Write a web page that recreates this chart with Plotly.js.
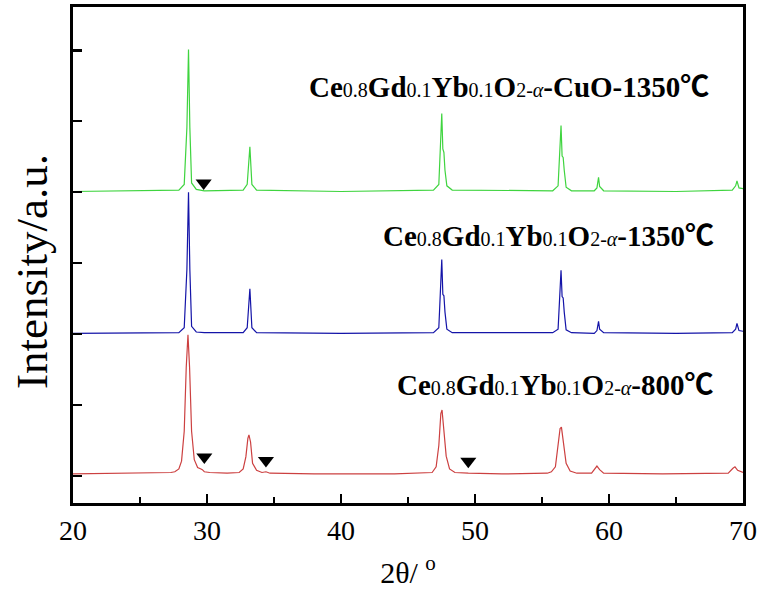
<!DOCTYPE html>
<html>
<head>
<meta charset="utf-8">
<script src="https://cdn.plot.ly/plotly-3.0.1.min.js"></script>
<style>html,body{margin:0;padding:0;background:#fff}#chart{width:765px;height:599px}</style>
</head>
<body>
<div id="chart"></div>
<script>
// Series names
const seriesNames = [
  "Ce0.8Gd0.1Yb0.1O2-α-CuO-1350℃",
  "Ce0.8Gd0.1Yb0.1O2-α-1350℃",
  "Ce0.8Gd0.1Yb0.1O2-α-800℃"
];
// Baseline offsets of the stacked patterns (axis units)
const offsets = [4.01, 2.01, 0.03];

// CuO-1350 pattern (green): 2θ and intensity above its baseline
const greenX = [20, 24, 27.9, 28.3, 28.5, 28.62, 28.72, 28.85, 29.2, 29.8, 32.7, 33.0, 33.2, 33.35, 33.7, 40, 46.9, 47.3, 47.52, 47.6, 47.68, 47.76, 47.9, 48.3, 55.8, 56.2, 56.42, 56.5, 56.58, 56.66, 56.8, 57.2, 58.9, 59.1, 59.22, 59.3, 59.6, 65, 69.2, 69.45, 69.55, 69.7, 70];
const greenY = [0, 0.01, 0.02, 0.1, 0.9, 2.0, 0.9, 0.12, 0.03, 0.01, 0.02, 0.1, 0.63, 0.1, 0.02, 0, 0.02, 0.1, 1.1, 0.6, 0.55, 0.3, 0.08, 0.02, 0.01, 0.08, 0.93, 0.5, 0.48, 0.3, 0.06, 0.01, 0.01, 0.05, 0.2, 0.07, 0.01, 0, 0.02, 0.08, 0.15, 0.05, 0.04];

// 1350 pattern (blue)
const blueX = [20, 24, 27.9, 28.3, 28.5, 28.62, 28.72, 28.85, 29.2, 29.8, 32.7, 33.0, 33.2, 33.35, 33.7, 40, 46.9, 47.3, 47.52, 47.6, 47.68, 47.76, 47.9, 48.3, 55.8, 56.2, 56.42, 56.5, 56.58, 56.66, 56.8, 57.2, 58.9, 59.1, 59.22, 59.3, 59.6, 65, 69.2, 69.45, 69.55, 69.7, 70];
const blueY = [0, 0, 0.01, 0.08, 0.9, 1.99, 0.9, 0.1, 0.02, 0.01, 0.01, 0.08, 0.63, 0.08, 0.01, 0, 0.01, 0.08, 1.04, 0.55, 0.53, 0.3, 0.06, 0.01, 0.01, 0.06, 0.89, 0.52, 0.5, 0.3, 0.05, 0.01, 0, 0.04, 0.17, 0.06, 0.01, 0, 0.01, 0.06, 0.14, 0.04, 0.03];

// 800 pattern (red)
const redX = [20, 24, 27.3, 27.6, 27.9, 28.1, 28.3, 28.45, 28.58, 28.7, 28.85, 29.05, 29.3, 29.55, 29.65, 29.8, 30.2, 31.5, 32.4, 32.7, 32.9, 33.05, 33.13, 33.25, 33.4, 33.7, 34.1, 34.4, 34.7, 38, 44, 46.8, 47.1, 47.3, 47.45, 47.54, 47.65, 47.85, 48.1, 48.5, 49.5, 52, 55.4, 55.7, 56.0, 56.2, 56.35, 56.45, 56.6, 56.8, 57.1, 57.6, 58.7, 58.95, 59.1, 59.3, 59.6, 64, 68.9, 69.25, 69.4, 69.6, 70];
const redY = [0, 0.01, 0.02, 0.03, 0.07, 0.18, 0.6, 1.5, 1.96, 1.5, 0.6, 0.2, 0.09, 0.07, 0.06, 0.03, 0.02, 0.01, 0.02, 0.07, 0.24, 0.5, 0.55, 0.45, 0.15, 0.05, 0.02, 0.03, 0.01, 0, 0, 0.02, 0.1, 0.4, 0.85, 0.9, 0.7, 0.25, 0.07, 0.02, 0.01, 0, 0.01, 0.03, 0.1, 0.4, 0.64, 0.66, 0.45, 0.15, 0.04, 0.01, 0.01, 0.07, 0.11, 0.06, 0.01, 0, 0.01, 0.08, 0.1, 0.05, 0.02];

// Marked impurity reflections (▼): 2θ and height above each baseline
const markGreenX = [29.75];
const markGreenY = [0.12];
const markRedX = [29.8, 34.4, 49.5];
const markRedY = [0.24, 0.19, 0.18];

const colors = ["#3fd43f", "#1414a8", "#cc4040"];
const xs = [greenX, blueX, redX];
const ys = [greenY, blueY, redY];

const traces = xs.map((x, i) => ({
  x: x,
  y: ys[i].map(v => v + offsets[i]),
  type: "scatter",
  mode: "lines",
  name: seriesNames[i],
  line: {color: colors[i], width: 1.2},
  showlegend: false
}));
traces.push({
  x: markGreenX, y: markGreenY.map(v => v + offsets[0]),
  type: "scatter", mode: "markers", showlegend: false,
  marker: {symbol: "triangle-down", size: 14, color: "#000"}
});
traces.push({
  x: markRedX, y: markRedY.map(v => v + offsets[2]),
  type: "scatter", mode: "markers", showlegend: false,
  marker: {symbol: "triangle-down", size: 14, color: "#000"}
});

const serif = "Liberation Serif, Times New Roman, Noto Sans CJK SC, serif";
function label(tail) {
  const s = t => '<span style="font-weight:normal;font-size:20px">' + t + '</span>';
  return '<b>Ce</b>' + s('0.8') + '<b>Gd</b>' + s('0.1') + '<b>Yb</b>' + s('0.1') + '<b>O</b>' +
    s('2-<i>α</i>') + '<b>' + tail + '</b>';
}
const labelTails = ["-CuO-1350℃", "-1350℃", "-800℃"];
const labelX = [67.6, 68.0, 68.0];
const labelY = [5.48, 3.38, 1.28];

const annotations = labelTails.map((t, i) => ({
  x: labelX[i], y: labelY[i], xref: "x", yref: "y",
  xanchor: "right", yanchor: "middle", showarrow: false,
  text: label(t),
  font: {family: serif, size: 29, color: "#000"}
}));
annotations.push({
  xref: "paper", yref: "paper", x: -0.061, y: 0.466,
  xanchor: "center", yanchor: "middle", showarrow: false, textangle: -90,
  text: "Intensity/a.u.",
  font: {family: serif, size: 45, color: "#000"}
});

const layout = {
  width: 765, height: 599,
  margin: {l: 73, r: 22, t: 7, b: 96},
  paper_bgcolor: "#fff", plot_bgcolor: "#fff",
  font: {family: serif, color: "#000"},
  xaxis: {
    range: [20, 70], tick0: 20, dtick: 10,
    ticks: "inside", ticklen: 9, tickwidth: 2.5, tickcolor: "#000",
    minor: {dtick: 5, ticks: "inside", ticklen: 6, tickwidth: 2, tickcolor: "#000"},
    showline: true, linewidth: 3, linecolor: "#000", mirror: true,
    showgrid: false, zeroline: false,
    tickfont: {family: serif, size: 28, color: "#000"},
    title: {text: "2θ/ <sup>o</sup>", font: {family: serif, size: 30, color: "#000"}, standoff: 18}
  },
  yaxis: {
    range: [-0.38, 6.61], tick0: 0, dtick: 1,
    ticks: "inside", ticklen: 9, tickwidth: 2.5, tickcolor: "#000",
    showticklabels: false,
    showline: true, linewidth: 3, linecolor: "#000", mirror: true,
    showgrid: false, zeroline: false
  },
  annotations: annotations
};

Plotly.newPlot("chart", traces, layout, {displayModeBar: false, staticPlot: true});
</script>
</body>
</html>
